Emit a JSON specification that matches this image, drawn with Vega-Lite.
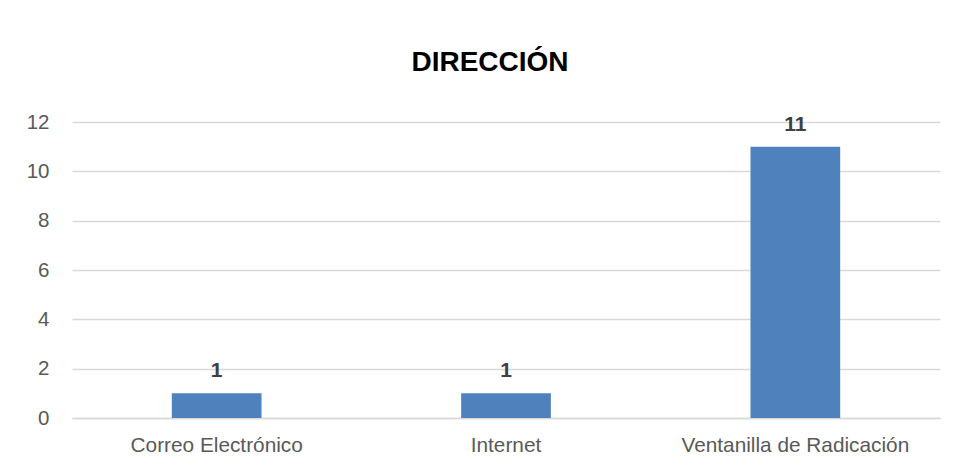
{
  "$schema": "https://vega.github.io/schema/vega-lite/v6.json",
  "autosize": {"type": "none"},
  "width": 868,
  "height": 296,
  "padding": {"left": 72, "top": 122, "right": 17, "bottom": 57},
  "background": "white",
  "title": {
    "text": "DIRECCIÓN",
    "font": "Liberation Sans",
    "fontSize": 28,
    "fontWeight": "bold",
    "color": "#000000",
    "anchor": "middle",
    "dx": -16,
    "offset": 35
  },
  "data": {
    "values": [
      {"canal": "Correo Electrónico", "valor": 1},
      {"canal": "Internet", "valor": 1},
      {"canal": "Ventanilla de Radicación", "valor": 11}
    ]
  },
  "encoding": {
    "x": {
      "field": "canal",
      "type": "nominal",
      "sort": null,
      "scale": {"paddingInner": 0.69, "paddingOuter": 0.345},
      "axis": {
        "title": null,
        "labelAngle": 0,
        "labelFont": "Liberation Sans",
        "labelFontSize": 20.8,
        "labelColor": "#595959",
        "labelPadding": 17,
        "labelLimit": 0,
        "ticks": false,
        "domain": true,
        "domainColor": "#d9d9d9",
        "domainWidth": 1.5,
        "grid": false
      }
    },
    "y": {
      "field": "valor",
      "type": "quantitative",
      "scale": {"domain": [0, 12]},
      "axis": {
        "title": null,
        "values": [0, 2, 4, 6, 8, 10, 12],
        "labelFont": "Liberation Sans",
        "labelFontSize": 20.5,
        "labelColor": "#595959",
        "labelPadding": 23,
        "ticks": false,
        "domain": false,
        "grid": true,
        "gridColor": "#d9d9d9",
        "gridWidth": 1.3
      }
    }
  },
  "layer": [
    {"mark": {"type": "bar", "color": "#4f81bd"}},
    {
      "mark": {
        "type": "text",
        "baseline": "alphabetic",
        "dy": -16,
        "font": "Liberation Sans",
        "fontSize": 21,
        "fontWeight": "bold",
        "color": "#404040"
      },
      "encoding": {"text": {"field": "valor", "type": "quantitative"}}
    }
  ],
  "config": {"view": {"stroke": null}}
}
